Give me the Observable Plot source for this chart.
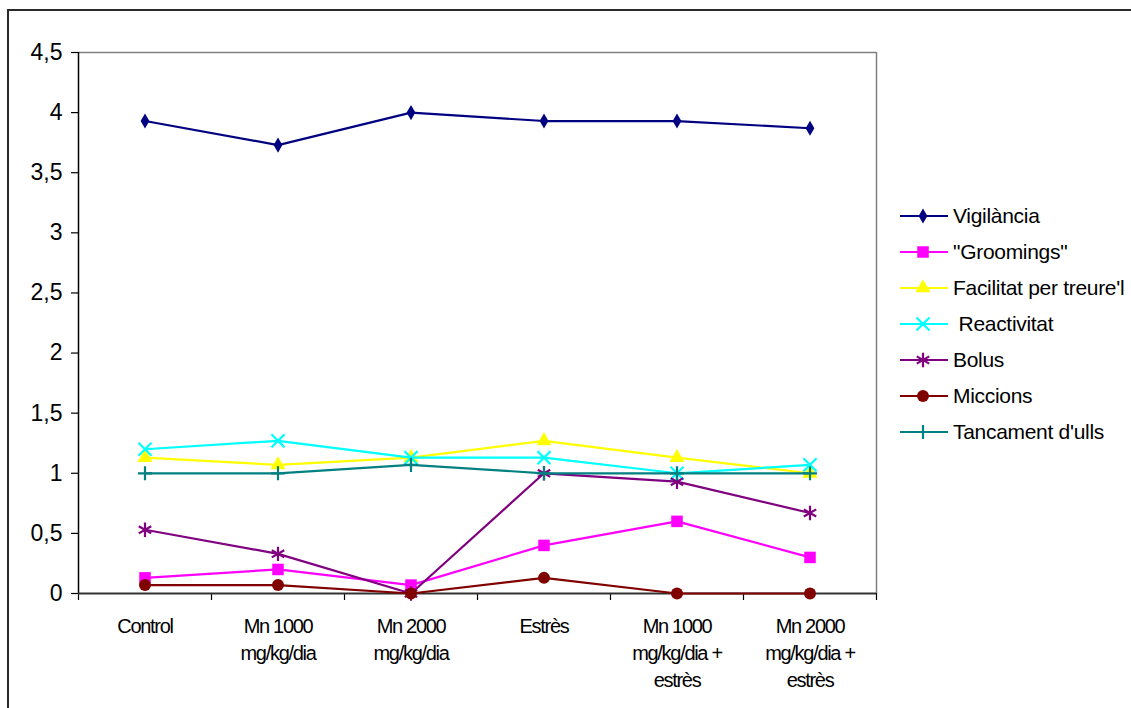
<!DOCTYPE html>
<html>
<head>
<meta charset="utf-8">
<script src="https://cdn.jsdelivr.net/npm/d3@7"></script>
<script src="https://cdn.jsdelivr.net/npm/@observablehq/plot@0.6"></script>
<style>
  html, body { margin: 0; padding: 0; background: #fff; overflow: hidden; }
  #wrap { position: relative; width: 1131px; height: 708px; overflow: hidden; font-family: Arial, "Liberation Sans", sans-serif; }
  #frame { position: absolute; left: 7px; top: 9px; width: 1200px; height: 800px; border: 2px solid #2a2a2a; box-sizing: border-box; }
  #chart { position: absolute; left: 0; top: 0; }
  .leg-row { position: absolute; left: 898px; height: 24px; display: flex; align-items: center; }
  .leg-row svg { display: block; }
  .leg-row span { margin-left: 3px; font-size: 21px; letter-spacing: -0.3px; color: #000; white-space: pre; line-height: 24px; }
</style>
</head>
<body>
<div id="wrap">
  <div id="frame"></div>
  <div id="chart"></div>
  <div id="legend"></div>
</div>
<script>
// Treatment groups along the x axis
const categories = [
  "Control",
  "Mn 1000\nmg/kg/dia",
  "Mn 2000\nmg/kg/dia",
  "Estrès",
  "Mn 1000\nmg/kg/dia +\nestrès",
  "Mn 2000\nmg/kg/dia +\nestrès"
];

// Mean behavioural scores per group
const vigilancia  = [3.93, 3.73, 4.00, 3.93, 3.93, 3.87];
const groomings   = [0.13, 0.20, 0.07, 0.40, 0.60, 0.30];
const facilitat   = [1.13, 1.07, 1.13, 1.27, 1.13, 1.00];
const reactivitat = [1.20, 1.27, 1.13, 1.13, 1.00, 1.07];
const bolus       = [0.53, 0.33, 0.00, 1.00, 0.93, 0.67];
const miccions    = [0.07, 0.07, 0.00, 0.13, 0.00, 0.00];
const tancament   = [1.00, 1.00, 1.07, 1.00, 1.00, 1.00];

const seriesNames = ["Vigilància", "\"Groomings\"", "Facilitat per treure'l", " Reactivitat", "Bolus", "Miccions", "Tancament d'ulls"];
const seriesValues = [vigilancia, groomings, facilitat, reactivitat, bolus, miccions, tancament];
const seriesColors = ["#000080", "#FF00FF", "#FFFF00", "#00FFFF", "#800080", "#800000", "#008080"];

// y axis tick values
const yTicks = [0, 0.5, 1, 1.5, 2, 2.5, 3, 3.5, 4, 4.5];
const xBoundaries = [0, 1, 2, 3, 4, 5, 6];

// marker style per series: symbol, radius, filled?
const markers = [
  {symbol: "diamond", r: 4.6, filled: true},
  {symbol: "square", r: 6.5, filled: true},
  {symbol: "triangle", r: 5.6, filled: true},
  {symbol: "times", r: 6.0, filled: false},
  {symbol: "asterisk", r: 6.8, filled: false},
  {symbol: "circle", r: 6.0, filled: true},
  {symbol: "plus", r: 4.6, filled: false}
];

const commaFormat = d => String(d).replace(".", ",");

const seriesMarks = seriesValues.flatMap((vals, k) => {
  const m = markers[k];
  const col = seriesColors[k];
  return [
    Plot.line(vals, {x: (d, i) => i + 0.5, y: d => d, stroke: col, strokeWidth: 2.2}),
    Plot.dot(vals, {
      x: (d, i) => i + 0.5, y: d => d,
      symbol: m.symbol, r: m.r,
      fill: m.filled ? col : "none",
      stroke: m.filled ? "none" : col,
      strokeWidth: m.filled ? 0 : 2.2
    })
  ];
});

const chart = Plot.plot({
  width: 1131,
  height: 708,
  marginLeft: 78,
  marginRight: 255,
  marginTop: 52,
  marginBottom: 115,
  x: {type: "linear", domain: [0, 6], axis: null},
  y: {domain: [0, 4.5], axis: null},
  style: {fontFamily: "Arial, 'Liberation Sans', sans-serif", background: "transparent", overflow: "visible", color: "#000"},
  marks: [
    Plot.ruleY([4.5], {stroke: "#808080", strokeWidth: 1.5}),
    Plot.ruleX([6], {stroke: "#808080", strokeWidth: 1.5}),
    Plot.axisY({ticks: yTicks, tickSize: 7, tickPadding: 9, fontSize: 23, tickFormat: commaFormat, label: null, stroke: "#000", strokeWidth: 1.2}),
    Plot.axisX({ticks: xBoundaries, tickSize: 7, tickFormat: () => "", label: null, stroke: "#000", strokeWidth: 1.2}),
    Plot.ruleX([0], {stroke: "#000", strokeWidth: 1.5}),
    Plot.ruleY([0], {stroke: "#333", strokeWidth: 2}),
    ...seriesMarks,
    Plot.text(categories, {
      x: (d, i) => i + 0.5, y: 0, dy: 21,
      lineAnchor: "top", lineHeight: 1.33, fontSize: 20, fill: "#000"
    })
  ]
});

// condensed category labels
d3.select(chart).selectAll('g[aria-label="text"] text').attr("letter-spacing", "-1.3");
document.getElementById("chart").append(chart);

// legend on the right
const legend = d3.select("#legend");
const symMap = {
  diamond: d3.symbolDiamond, square: d3.symbolSquare, triangle: d3.symbolTriangle,
  times: d3.symbolTimes, asterisk: d3.symbolAsterisk, circle: d3.symbolCircle, plus: d3.symbolPlus
};
seriesNames.forEach((name, k) => {
  const m = markers[k];
  const col = seriesColors[k];
  const row = legend.append("div").attr("class", "leg-row").style("top", (204 + k * 36) + "px");
  const svg = row.append("svg").attr("width", 52).attr("height", 24);
  svg.append("line").attr("x1", 2).attr("x2", 50).attr("y1", 12).attr("y2", 12)
    .attr("stroke", col).attr("stroke-width", 2.2);
  svg.append("path")
    .attr("transform", "translate(25,12)")
    .attr("d", d3.symbol(symMap[m.symbol], Math.PI * m.r * m.r)())
    .attr("fill", m.filled ? col : "none")
    .attr("stroke", m.filled ? "none" : col)
    .attr("stroke-width", m.filled ? 0 : 2.2);
  row.append("span").text(name);
});
</script>
</body>
</html>
